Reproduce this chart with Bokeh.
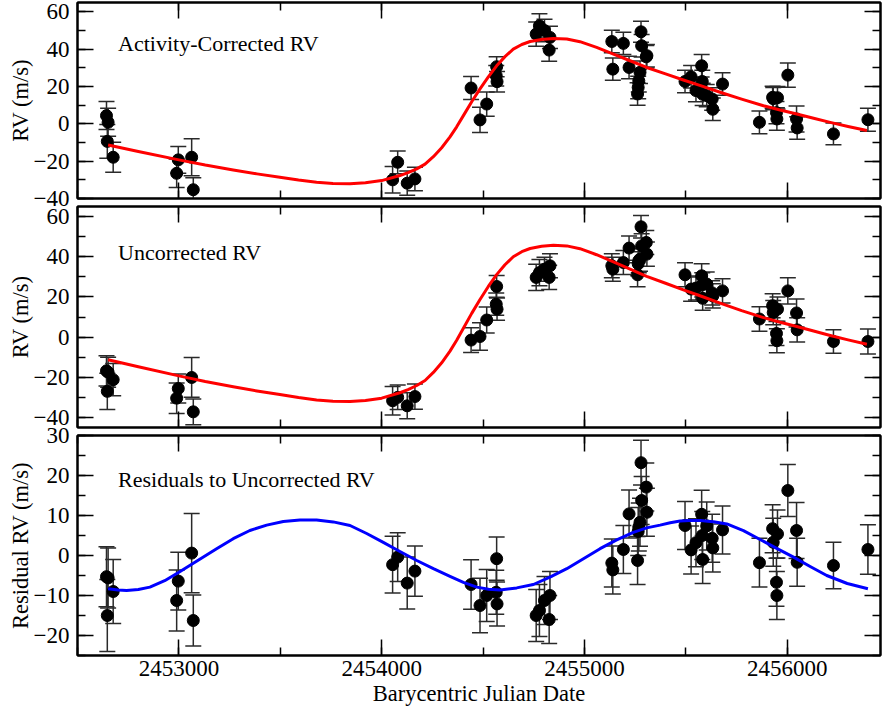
import numpy as np
from bokeh.plotting import figure
from bokeh.models import (Range1d, LinearAxis, SingleIntervalTicker, BasicTickFormatter,
                          ColumnDataSource, Whisker, TeeHead, Label)
from bokeh.layouts import column
from bokeh.embed import file_html
from bokeh.resources import INLINE

# ---------------- data ----------------
bjd = [2452643, 2452651, 2452647, 2452676,
       2452989, 2452997, 2453063, 2453071,
       2454054, 2454079, 2454126, 2454164,
       2454441, 2454485, 2454518, 2454565, 2454567, 2454569,
       2454762, 2454778, 2454803, 2454826, 2454830,
       2455135, 2455140, 2455192, 2455220, 2455262, 2455265, 2455268, 2455274,
       2455279, 2455282, 2455305, 2455308,
       2455496, 2455526, 2455550, 2455578, 2455581, 2455583, 2455603, 2455630,
       2455633, 2455681,
       2455863, 2455928, 2455931, 2455947, 2455949, 2455952, 2456003, 2456046,
       2456049, 2456228, 2456398]

rv_corrected = [4.4, 0.8, -9.4, -17.9,
                -26.5, -19.3, -17.9, -35.3,
                -30.0, -20.6, -31.8, -29.5,
                19.2, 2.1, 10.6, 25.8, 30.6, 22.6,
                48.1, 52.5, 50.0, 39.5, 46.3,
                44.1, 29.3, 43.1, 30.2, 16.0, 19.5, 23.1, 27.6, 49.3, 41.8, 35.9, 36.5,
                22.7, 25.2, 17.8, 31.1, 22.7, 15.8, 15.1, 13.3, 7.8, 21.3,
                0.8, 14.2, 13.5, 6.0, 2.6, 14.0, 26.1, 2.6, -2.2, -5.4, 2.2]

rv_uncorrected = [-16.8, -17.5, -27.0, -21.2,
                  -30.4, -25.6, -20.1, -37.2,
                  -31.7, -30.0, -34.2, -29.6,
                  -1.5, 0.3, 8.5, 16.4, 25.2, 13.9,
                  29.7, 32.1, 33.8, 29.7, 35.5,
                  35.5, 33.8, 37.1, 44.3, 31.0, 36.5, 38.0, 38.8, 54.9, 45.4, 47.1, 41.3,
                  31.0, 23.9, 24.4, 30.5, 26.0, 19.3, 26.4, 22.0, 20.5, 23.0,
                  9.0, 15.6, 12.2, 1.8, -1.8, 13.9, 23.0, 12.0, 3.6, -2.2, -2.2]

rv_residual = [-5.3, -5.6, -15.0, -9.0,
               -11.25, -6.4, 0.6, -16.25,
               -2.3, -0.4, -6.9, -3.9,
               -7.25, -12.5, -10.0, -9.2, -0.8, -12.1,
               -15.0, -13.75, -11.25, -16.0, -10.0,
               -1.9, -3.6, 1.5, 10.4, -1.25, 6.0, 7.1, 8.3, 23.2, 13.75, 17.1, 10.8,
               7.5, 1.4, 3.2, 10.3, 5.0, -1.0, 7.4, 4.3, 1.9, 6.4,
               -1.8, 6.7, 3.3, -6.7, -10.0, 5.4, 16.25, 6.25, -1.7, -2.5, 1.5]

rv_err = [7.5, 7.5, 9.0, 8.0,
          7.6, 7.2, 9.9, 6.4,
          7.1, 6.1, 6.5, 6.3,
          6.2, 6.8, 6.5, 5.5, 5.4, 5.5,
          6.5, 6.5, 6.0, 6.0, 6.0,
          6.0, 6.0, 6.0, 6.0, 6.0, 6.0, 6.0, 6.0, 5.6, 6.0, 6.0, 6.0,
          6.0, 6.0, 6.0, 6.0, 6.0, 6.0, 6.0, 6.0, 6.0, 6.0,
          6.1, 6.0, 6.0, 6.0, 6.0, 6.0, 6.5, 7.0, 6.0, 5.8, 6.2]

# Keplerian model (red)
model_bjd = [2452651, 2452800, 2453000, 2453130, 2453268, 2453385, 2453498, 2453590,
             2453679, 2453760, 2453844, 2453920, 2454000, 2454090, 2454130, 2454173,
             2454214, 2454255, 2454296, 2454337, 2454370, 2454403, 2454444, 2454485,
             2454526, 2454567, 2454608, 2454649, 2454691, 2454732, 2454789, 2454847,
             2454913, 2454978, 2455060, 2455143, 2455225, 2455307, 2455400, 2455488,
             2455580, 2455669, 2455775, 2455883, 2455965, 2456047, 2456130, 2456212,
             2456300, 2456393]
model_rv = [-11.3, -14.8, -19.3, -22.1, -24.7, -26.8, -28.6, -30.1,
            -31.3, -31.9, -32.1, -31.6, -30.4, -27.7, -26.1, -24.1,
            -21.6, -17.6, -12.8, -7.0, -1.6, 4.4, 11.8, 18.7,
            25.2, 31.1, 36.0, 40.0, 42.5, 44.1, 45.2, 45.7,
            45.4, 44.0, 41.0, 37.4, 33.8, 30.2, 26.8, 23.5,
            20.2, 16.9, 13.2, 9.7, 7.4, 5.3, 3.0, 0.8,
            -1.4, -3.6]

# sinusoid fitted to residuals (blue)
resid_model_bjd = [2452651, 2452700, 2452742, 2452800, 2452857, 2452930, 2453000, 2453093,
                   2453186, 2453268, 2453350, 2453433, 2453515, 2453597, 2453679, 2453761,
                   2453844, 2453926, 2454008, 2454090, 2454173, 2454255, 2454337, 2454403,
                   2454469, 2454527, 2454584, 2454666, 2454748, 2454830, 2454913, 2454995,
                   2455077, 2455159, 2455241, 2455307, 2455373, 2455423, 2455472, 2455521,
                   2455570, 2455636, 2455702, 2455784, 2455866, 2455948, 2456031, 2456113,
                   2456195, 2456296, 2456398]
resid_model_rv = [-8.3, -8.65, -8.75, -8.5, -7.9, -6.3, -4.2, -1.25,
                  1.7, 4.2, 6.25, 7.6, 8.5, 8.85, 8.9, 8.4,
                  7.5, 5.5, 3.3, 1.0, -1.25, -3.3, -5.2, -6.7,
                  -7.9, -8.45, -8.6, -8.1, -7.25, -5.4, -3.3, -0.8,
                  1.7, 3.9, 5.8, 6.9, 7.6, 8.2, 8.6, 8.75,
                  8.75, 8.45, 7.9, 6.2, 4.0, 1.8, -0.4, -2.75,
                  -5.0, -7.0, -8.3]

panel_titles = ["Activity-Corrected RV", "Uncorrected RV", "Residuals to Uncorrected RV"]
y_titles = ["RV (m/s)", "RV (m/s)", "Residual RV (m/s)"]
x_title = "Barycentric Julian Date"

FONT = "Liberation Serif"
X_RANGE = (2452500, 2456460)


def style_axis(ax, show_labels, standoff=8):
    ax.axis_line_width = 2
    ax.axis_line_color = "black"
    ax.major_tick_in = 16
    ax.major_tick_out = 0
    ax.minor_tick_in = 8
    ax.minor_tick_out = 0
    ax.major_tick_line_width = 1.5
    ax.minor_tick_line_width = 1.5
    ax.major_tick_line_color = "black"
    ax.minor_tick_line_color = "black"
    if show_labels:
        ax.major_label_text_font = FONT
        ax.major_label_text_font_size = "23px"
        ax.major_label_text_color = "black"
        ax.major_label_standoff = standoff
    else:
        ax.major_label_text_font_size = "0px"
        ax.major_label_text_color = None
        ax.major_label_standoff = 0


def make_panel(height, top_b, bottom_b, margin, yr, y_int, yvals, curve_x, curve_y,
               curve_color, title, title_y, ytitle, show_x):
    p = figure(width=882, height=height, output_backend="svg", toolbar_location=None,
               x_range=Range1d(*X_RANGE), y_range=Range1d(*yr),
               x_axis_location=None, y_axis_location=None,
               min_border_left=77, min_border_right=2,
               min_border_top=top_b, min_border_bottom=bottom_b,
               background_fill_color=None, border_fill_color=None,
               outline_line_color="black", outline_line_width=2, margin=margin)
    p.grid.visible = False

    for loc in ("below", "above"):
        ax = LinearAxis(ticker=SingleIntervalTicker(interval=1000, num_minor_ticks=2),
                        formatter=BasicTickFormatter(use_scientific=False))
        show = (loc == "below" and show_x)
        style_axis(ax, show, standoff=5)
        if show:
            ax.axis_label = x_title
            ax.axis_label_text_font = FONT
            ax.axis_label_text_font_size = "22.5px"
            ax.axis_label_text_font_style = "normal"
            ax.axis_label_text_color = "black"
            ax.axis_label_standoff = 2
        p.add_layout(ax, loc)

    for loc in ("left", "right"):
        ax = LinearAxis(ticker=SingleIntervalTicker(interval=y_int, num_minor_ticks=2))
        show = (loc == "left")
        style_axis(ax, show, standoff=8)
        if show:
            ax.axis_label = ytitle
            ax.axis_label_text_font = FONT
            ax.axis_label_text_font_size = "22.5px"
            ax.axis_label_text_font_style = "normal"
            ax.axis_label_text_color = "black"
            ax.axis_label_standoff = -2
        p.add_layout(ax, loc)

    y = np.array(yvals, dtype=float)
    e = np.array(rv_err, dtype=float)
    src = ColumnDataSource(dict(x=bjd, y=y, upper=y + e, lower=y - e))
    wh = Whisker(source=src, base="x", upper="upper", lower="lower",
                 line_color="#2a2a2a", line_width=1.5, level="underlay",
                 upper_head=TeeHead(size=16, line_color="#2a2a2a", line_width=1.5),
                 lower_head=TeeHead(size=16, line_color="#2a2a2a", line_width=1.5))
    p.add_layout(wh)
    p.scatter("x", "y", source=src, size=12, color="black")
    p.line(curve_x, curve_y, line_color=curve_color, line_width=3, line_join="round")

    p.add_layout(Label(x=2452700, y=title_y, text=title, text_font=FONT,
                       text_font_size="22px", text_baseline="middle", text_color="black"))
    return p


p1 = make_panel(214, 2, 16, (0, 0, -12, 0), (-40, 65), 20, rv_corrected,
                model_bjd, model_rv, "#ff0000", panel_titles[0], 43, y_titles[0], False)
p2 = make_panel(241, 4, 16, (0, 0, -12, 0), (-45, 65), 20, rv_uncorrected,
                model_bjd, model_rv, "#ff0000", panel_titles[1], 42, y_titles[1], False)
p3 = make_panel(293, 16, 57, (-12, 0, 0, 0), (-25, 30), 10, rv_residual,
                resid_model_bjd, resid_model_rv, "#0000ff", panel_titles[2], 19, y_titles[2], True)

layout = column(p1, p2, p3)
open("out.html", "w").write(file_html(layout, INLINE))
